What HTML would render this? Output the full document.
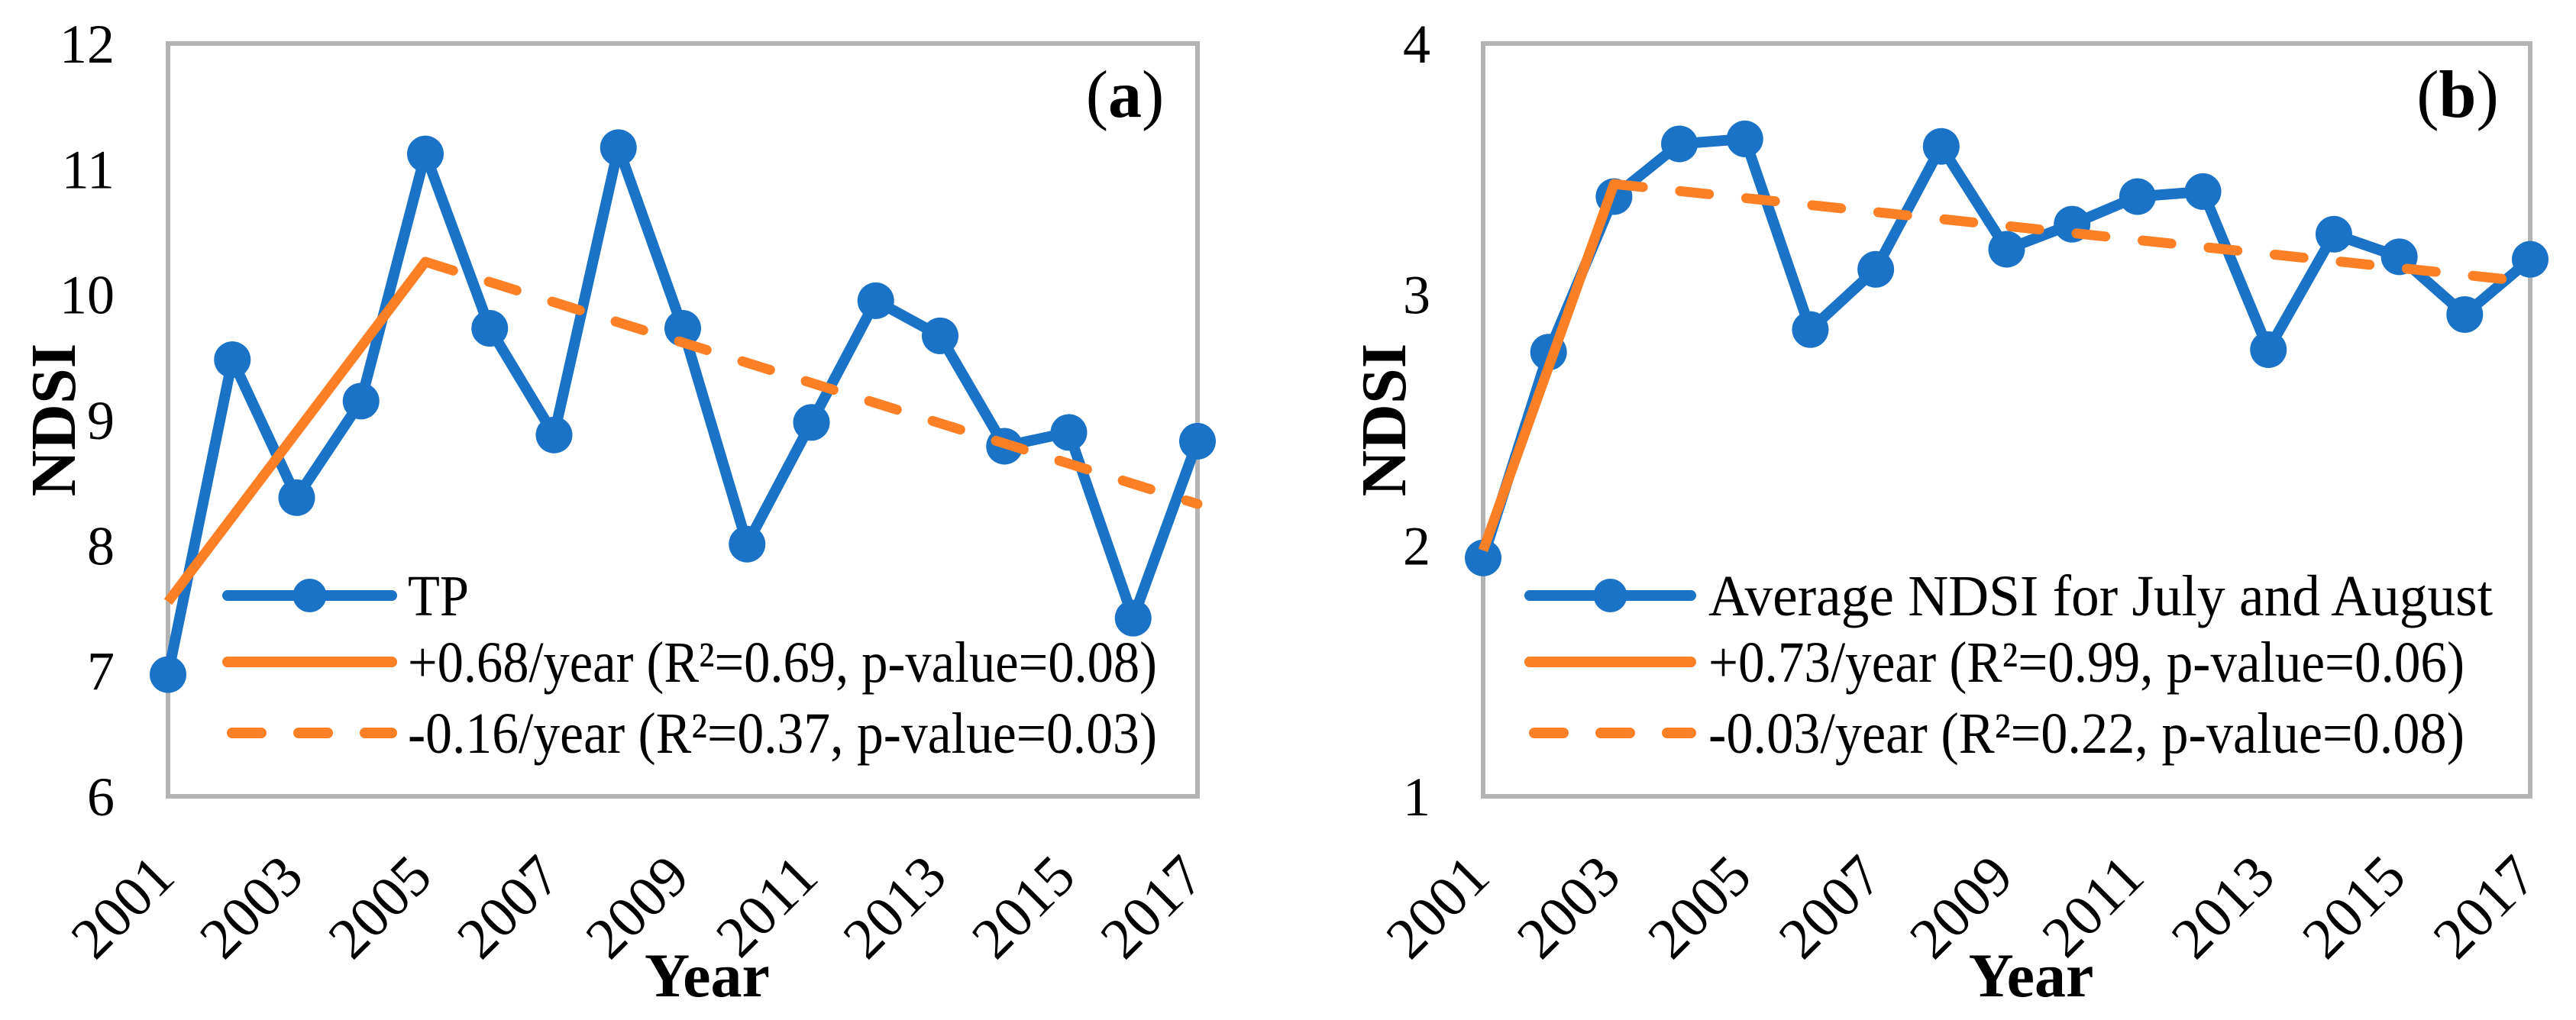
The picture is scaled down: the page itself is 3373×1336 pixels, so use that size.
<!DOCTYPE html>
<html><head><meta charset="utf-8"><style>
html,body{margin:0;padding:0;background:#fff;}
svg{display:block;font-family:"Liberation Serif",serif;}
</style></head><body>
<svg id="fig" width="3373" height="1336" viewBox="0 0 3373 1336" xmlns="http://www.w3.org/2000/svg"></svg>
<script>
const years=[2001,2002,2003,2004,2005,2006,2007,2008,2009,2010,2011,2012,2013,2014,2015,2016,2017];
const tickYears=[2001,2003,2005,2007,2009,2011,2013,2015,2017];
const tpValues=[6.97,9.48,8.38,9.15,11.12,9.73,8.88,11.17,9.73,8.01,8.98,9.95,9.67,8.79,8.90,7.42,8.83];
const tpTrendUpYears=[2001,2005];
const tpTrendUpValues=[7.55,10.26];
const tpTrendDownYears=[2005,2017];
const tpTrendDownValues=[10.26,8.33];
const tpYTicks=[6,7,8,9,10,11,12];
const tpLegend=["TP","+0.68/year (R²=0.69, p-value=0.08)","-0.16/year  (R²=0.37, p-value=0.03)"];
const jaValues=[1.95,2.77,3.39,3.60,3.62,2.86,3.10,3.59,3.18,3.28,3.39,3.41,2.78,3.24,3.15,2.92,3.14];
const jaTrendUpYears=[2001,2003];
const jaTrendUpValues=[1.98,3.44];
const jaTrendDownYears=[2003,2017];
const jaTrendDownValues=[3.44,3.05];
const jaYTicks=[1,2,3,4];
const jaLegend=["Average NDSI for July and August","+0.73/year  (R²=0.99, p-value=0.06)","-0.03/year  (R²=0.22, p-value=0.08)"];

const NS="http://www.w3.org/2000/svg";
const svg=document.getElementById('fig');
function mk(tag,attrs,parent){const e=document.createElementNS(NS,tag);for(const k in attrs)e.setAttribute(k,attrs[k]);(parent||svg).appendChild(e);return e;}

function panel(cfg){
  const g=mk('g',{});
  
  
  const L=cfg.left,R=cfg.right,T=57,B=1043;
  const x=v=>L+(v-2001)/(2017-2001)*(R-L);
  const y=v=>B-(v-cfg.ymin)/(cfg.ymax-cfg.ymin)*(B-T);
  const frame=mk('rect',{x:L,y:T,width:R-L,height:B-T,fill:'none',stroke:'#b4b4b4','stroke-width':6},g);
  
  
  cfg.yticks.forEach(v=>{
    const t=mk('text',{x:cfg.labelRight,y:y(v)+25,'text-anchor':'end','font-size':72},g);
    t.textContent=v;
    
    
  });
  tickYears.forEach(yr=>{
    const px=x(yr)+12,py=1152;
    const t=mk('text',{x:px,y:py,'text-anchor':'end','font-size':76,transform:`rotate(-45 ${px} ${py})`},g);
    t.textContent=yr;
    
    
  });
  const yt=mk('text',{x:cfg.ytitleX,y:550,'text-anchor':'middle','font-size':84,'font-weight':'bold',transform:`rotate(-90 ${cfg.ytitleX} 550)`,dy:28},g);
  yt.textContent='NDSI';
  
  
  const xt=mk('text',{x:(L+R)/2+32,y:1305,'text-anchor':'middle','font-size':82,'font-weight':'bold'},g);
  xt.textContent='Year';
  
  
  const pl=mk('text',{x:R-95,y:153,'text-anchor':'middle','font-size':88},g);
  pl.innerHTML='(<tspan font-weight="bold">'+cfg.tag+'</tspan>)';
  
  
  const pts=years.map((yr,i)=>x(yr)+','+y(cfg.values[i])).join(' ');
  const line=mk('polyline',{points:pts,fill:'none',stroke:'#1a73c6','stroke-width':14,'stroke-linejoin':'round'},g);
  
  
  years.forEach((yr,i)=>{
    const c=mk('circle',{cx:x(yr),cy:y(cfg.values[i]),r:24,fill:'#1a73c6'},g);
    
    
  });
  const up=mk('line',{x1:x(cfg.upX[0]),y1:y(cfg.upV[0]),x2:x(cfg.upX[1]),y2:y(cfg.upV[1]),stroke:'#fd7f26','stroke-width':13},g);
  
  
  const dn=mk('line',{x1:x(cfg.dnX[0]),y1:y(cfg.dnV[0]),x2:x(cfg.dnX[1]),y2:y(cfg.dnV[1]),stroke:'#fd7f26','stroke-width':13,'stroke-dasharray':'38 49','stroke-linecap':'round'},g);
  
  
  const rows=[780,867,960];
  const lg=mk('g',{},g);
  
  
  rows.forEach((ry,i)=>{
    let s;
    if(i===0){
      s=mk('line',{x1:cfg.lgX1,y1:ry,x2:cfg.lgX2,y2:ry,stroke:'#1a73c6','stroke-width':14,'stroke-linecap':'round'},lg);
      const c=mk('circle',{cx:(cfg.lgX1+cfg.lgX2)/2,cy:ry,r:22,fill:'#1a73c6'},lg);
      
      
    }else if(i===1){
      s=mk('line',{x1:cfg.lgX1,y1:ry,x2:cfg.lgX2,y2:ry,stroke:'#fd7f26','stroke-width':14,'stroke-linecap':'round'},lg);
    }else{
      s=mk('line',{x1:cfg.lgX1+6,y1:ry,x2:cfg.lgX2,y2:ry,stroke:'#fd7f26','stroke-width':14,'stroke-linecap':'round','stroke-dasharray':'38 49'},lg);
    }
    
    
    const t=mk('text',{x:cfg.lgT,y:ry+26,'font-size':76,textLength:cfg.lgW[i],lengthAdjust:'spacingAndGlyphs'},lg);
    t.textContent=cfg.legend[i];
    
    
  });
}
panel({id:'panel-a-tp',tag:'a',left:220,right:1568,ymin:6,ymax:12,yticks:tpYTicks,labelRight:150,ytitleX:70,
  values:tpValues,upX:tpTrendUpYears,upV:tpTrendUpValues,dnX:tpTrendDownYears,dnV:tpTrendDownValues,
  legend:tpLegend,lgX1:298,lgX2:513,lgT:534,lgW:[80,981,981]});
panel({id:'panel-b-july-august',tag:'b',left:1942,right:3313,ymin:1,ymax:4,yticks:jaYTicks,labelRight:1873,ytitleX:1812,
  values:jaValues,upX:jaTrendUpYears,upV:jaTrendUpValues,dnX:jaTrendDownYears,dnV:jaTrendDownValues,
  legend:jaLegend,lgX1:2003,lgX2:2214,lgT:2237,lgW:[1027,990,990]});
</script>
</body></html>
